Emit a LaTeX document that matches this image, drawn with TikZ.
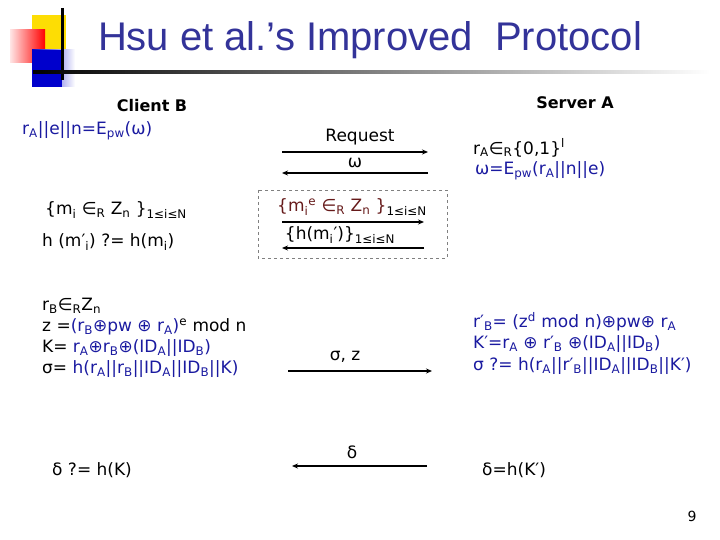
\documentclass[tikz,border=0pt]{standalone}
\usepackage{fontspec}
\setmainfont{DejaVu Sans}
\newfontfamily\titlefont{Liberation Sans}
\usetikzlibrary{arrows.meta}
\definecolor{ttl}{RGB}{51,51,153}
\definecolor{bl}{RGB}{26,26,160}
\definecolor{dr}{RGB}{102,26,26}
\newcommand\sbs[1]{\textsubscript{#1}}
\newcommand\sps[1]{\textsuperscript{#1}}
\tikzset{
 txt/.style={anchor=west,inner sep=0pt,font=\fontsize{17}{20}\selectfont},
 lbl/.style={inner sep=0pt,font=\fontsize{17}{20}\selectfont},
 hdr/.style={inner sep=0pt,font=\fontsize{16}{18}\selectfont\bfseries},
 msg/.style={line width=1.3pt,-{Stealth[length=6pt,width=5pt]}}
}
\begin{document}
\begin{tikzpicture}[x=1pt,y=-1pt]
\useasboundingbox (0,0) rectangle (720,540);
% logo
\fill[yellow!80!orange] (32,15) rectangle (66,50);
\shade[left color=red!10,right color=red] (10,30) rectangle (45,63);
\shade[left color=blue!80!black,right color=white] (32,50) rectangle (75,87);
\fill[blue!80!black] (32,50) rectangle (62,87);
\draw[line width=3pt] (62,8) -- (62,80);
\shade[left color=black,right color=white] (33,71) rectangle (710,73.5);
\node[inner sep=0pt,text=ttl,font=\titlefont\fontsize{40}{44}\selectfont] (title) at (370,40) {Hsu et al.’s Improved\ \ Protocol};
\node[hdr] (cb) at (152,106) {Client B};
\node[hdr] (sa) at (575,103) {Server A};
% left
\node[txt,text=bl] (l1) at (22,131) {r\sbs{A}||e||n=E\sbs{pw}(ω)};
\node[txt] (l2) at (45,210) {\{m\sbs{i} ∈\sbs{R} Z\sbs{n} \}\sbs{1≤i≤N}};
\node[txt] (l3) at (42,242) {h (m′\sbs{i}) ?= h(m\sbs{i})};
\node[txt] (l4) at (42,306) {r\sbs{B}∈\sbs{R}Z\sbs{n}};
\node[txt] (l5) at (42,327) {z =\textcolor{bl}{(r\sbs{B}⊕pw ⊕ r\sbs{A})}\sps{e} mod n};
\node[txt] (l6) at (42,348) {K= \textcolor{bl}{r\sbs{A}⊕r\sbs{B}⊕(ID\sbs{A}||ID\sbs{B})}};
\node[txt] (l7) at (42,369) {σ= \textcolor{bl}{h(r\sbs{A}||r\sbs{B}||ID\sbs{A}||ID\sbs{B}||K)}};
\node[txt] (l8) at (52,470) {δ ?= h(K)};
% right
\node[txt] (r1) at (473,148) {r\sbs{A}∈\sbs{R}\{0,1\}\sps{l}};
\node[txt,text=bl] (r2) at (475,171) {ω=E\sbs{pw}(r\sbs{A}||n||e)};
\node[txt,text=bl] (r3) at (473,322) {r′\sbs{B}= (z\sps{d} mod n)⊕pw⊕ r\sbs{A}};
\node[txt,text=bl] (r4) at (473,344) {K′=r\sbs{A} ⊕ r′\sbs{B} ⊕(ID\sbs{A}||ID\sbs{B})};
\node[txt,text=bl] (r5) at (473,366) {σ ?= h(r\sbs{A}||r′\sbs{B}||ID\sbs{A}||ID\sbs{B}||K′)};
\node[txt] (r6) at (482,470) {δ=h(K′)};
% arrows
\coordinate (a1s) at (282,152); \coordinate (a1e) at (428,152);
\draw[msg] (a1s) -- (a1e);
\node[lbl] (m1) at (360,137) {Request};
\coordinate (a2s) at (428,173); \coordinate (a2e) at (282,173);
\draw[msg] (a2s) -- (a2e);
\node[lbl] (m2) at (355,163) {ω};
\draw[gray,dashed,thick] (258,190) rectangle (447,258);
\coordinate (a3s) at (282,222); \coordinate (a3e) at (424,222);
\draw[msg] (a3s) -- (a3e);
\node[lbl] (m3) at (352,207) {\textcolor{dr}{\{m\sbs{i}\sps{e} ∈\sbs{R} Z\sbs{n} \}}\sbs{1≤i≤N}};
\coordinate (a4s) at (424,248); \coordinate (a4e) at (282,248);
\draw[msg] (a4s) -- (a4e);
\node[lbl] (m4) at (340,235) {\{h(m\sbs{i}′)\}\sbs{1≤i≤N}};
\coordinate (a5s) at (288,371); \coordinate (a5e) at (432,371);
\draw[msg] (a5s) -- (a5e);
\node[lbl] (m5) at (345,357) {σ, z};
\coordinate (a6s) at (427,466); \coordinate (a6e) at (292,466);
\draw[msg] (a6s) -- (a6e);
\node[lbl] (m6) at (352,452) {δ};
\node[inner sep=0pt,font=\fontsize{14}{16}\selectfont] (pg) at (692,516) {9};
\end{tikzpicture}
\end{document}
